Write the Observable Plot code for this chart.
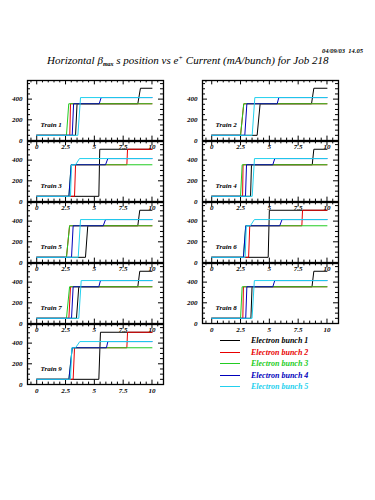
<!DOCTYPE html>
<html><head><meta charset="utf-8">
<script src="https://cdn.jsdelivr.net/npm/d3@7"></script>
<script src="https://cdn.jsdelivr.net/npm/@observablehq/plot@0.6"></script>
<style>
body{margin:0;background:#fff;}
#wrap{position:relative;width:375px;height:500px;overflow:hidden;background:#fff;}
#wrap svg{position:absolute;left:0;top:0;}
.t{position:absolute;font-family:"Liberation Serif",serif;font-style:italic;white-space:nowrap;line-height:1;}
#title{left:47px;top:55px;font-size:11px;}
#title sub{font-size:6px;vertical-align:-2px;font-weight:bold;}
#title sup{font-size:7px;vertical-align:4px;}
#date{left:322px;top:48px;font-size:6.5px;font-weight:bold;}
.lg{position:absolute;left:220px;height:11px;}
.lg .ln{position:absolute;left:0;top:5px;width:20px;height:0;border-top:1px solid;}
.lg .tx{position:absolute;left:31px;top:0;font-family:"Liberation Serif",serif;font-style:italic;font-weight:bold;font-size:8px;line-height:11px;white-space:nowrap;}
</style></head><body><div id="wrap">
<div class="t" id="date">04/09/03&nbsp;&nbsp;14.05</div>
<div class="t" id="title">Horizontal β<sub>max</sub> s position vs e<sup>+</sup> Current (mA/bunch) for Job 218</div>
</div>
<script>
const trainNames = ["Train 1","Train 2","Train 3","Train 4","Train 5","Train 6","Train 7","Train 8","Train 9"];
const bunchNames = ["Electron bunch 1","Electron bunch 2","Electron bunch 3","Electron bunch 4","Electron bunch 5"];
const bunchColors = ["#000000","#e80000","#22cc22","#0000bb","#22d0ee"];
const xTickLabels = [0, 2.5, 5, 7.5, 10];
const yTickLabels = [0, 200, 400];

// each train: 5 polylines (bunch 1..5) of [current, position] vertices
const train1 = [
  [[0,50],[3.37,50],[3.5,355],[8.77,355],[9.0,505],[10,505]],
  [[0,50],[2.87,50],[2.93,355],[10,355]],
  [[0,50],[2.58,50],[2.78,355],[10,355]],
  [[0,50],[3.08,50],[3.2,355],[5.42,355],[5.59,415],[10,415]],
  [[0,50],[3.57,50],[3.8,415],[10,415]]
];
const train2 = [
  [[0,50],[3.94,50],[4.2,355],[8.66,355],[8.86,505],[10,505]],
  [[0,50],[2.5,50],[2.78,355],[10,355]],
  [[0,50],[2.5,50],[2.78,355],[10,355]],
  [[0,50],[2.87,50],[3.05,355],[5.68,355],[5.82,415],[10,415]],
  [[0,50],[3.51,50],[3.74,415],[10,415]]
];
const train3 = [
  [[0,50],[5.39,50],[5.47,505],[10,505]],
  [[0,50],[3.28,50],[3.37,355],[7.82,355],[7.88,505],[10,505]],
  [[0,50],[2.79,50],[2.99,355],[10,355]],
  [[0,50],[2.79,50],[2.99,355],[5.97,355],[6.17,415],[10,415]],
  [[0,50],[2.93,50],[3.02,355],[3.37,355],[3.71,415],[10,415]]
];
const train4 = [
  [[0,50],[3.37,50],[3.45,355],[8.72,355],[8.86,505],[10,505]],
  [[0,50],[2.68,50],[2.72,355],[10,355]],
  [[0,50],[2.5,50],[2.64,355],[10,355]],
  [[0,50],[2.93,50],[3.02,355],[5.3,355],[5.47,415],[10,415]],
  [[0,50],[3.51,50],[3.71,415],[10,415]]
];
const train5 = [
  [[0,50],[4.23,50],[4.43,355],[8.77,355],[8.94,505],[10,505]],
  [[0,50],[2.58,50],[2.85,355],[10,355]],
  [[0,50],[2.58,50],[2.85,355],[10,355]],
  [[0,50],[3.02,50],[3.16,355],[5.77,355],[5.97,415],[10,415]],
  [[0,50],[3.6,50],[3.8,415],[10,415]]
];
const train6 = [
  [[0,50],[4.9,50],[5.0,505],[10,505]],
  [[0,50],[3.2,50],[3.3,355],[7.82,355],[7.88,505],[10,505]],
  [[0,50],[2.75,50],[2.95,355],[10,355]],
  [[0,50],[2.75,50],[2.95,355],[5.9,355],[6.1,415],[10,415]],
  [[0,50],[2.9,50],[3.0,355],[3.35,355],[3.7,415],[10,415]]
];
const train7 = [
  [[0,50],[3.45,50],[3.65,355],[8.77,355],[8.94,505],[10,505]],
  [[0,50],[2.79,50],[2.93,355],[10,355]],
  [[0,50],[2.58,50],[2.85,355],[10,355]],
  [[0,50],[3.02,50],[3.16,355],[5.39,355],[5.53,415],[10,415]],
  [[0,50],[3.65,50],[3.86,415],[10,415]]
];
const train8 = [
  [[0,50],[3.4,50],[3.5,355],[8.7,355],[8.86,505],[10,505]],
  [[0,50],[2.7,50],[2.75,355],[10,355]],
  [[0,50],[2.5,50],[2.64,355],[10,355]],
  [[0,50],[2.95,50],[3.05,355],[5.3,355],[5.47,415],[10,415]],
  [[0,50],[3.5,50],[3.7,415],[10,415]]
];
const train9 = [
  [[0,50],[5.39,50],[5.53,505],[10,505]],
  [[0,50],[3.16,50],[3.28,355],[7.82,355],[7.88,505],[10,505]],
  [[0,50],[2.79,50],[3.08,355],[10,355]],
  [[0,50],[2.79,50],[3.08,355],[6.05,355],[6.17,415],[10,415]],
  [[0,50],[2.93,50],[3.05,355],[3.37,355],[3.74,415],[10,415]]
];
const trains = [train1,train2,train3,train4,train5,train6,train7,train8,train9];

// tidy rows
const rows = [];
trains.forEach((tr, t) => tr.forEach((pts, b) => pts.forEach(([x, y], i) =>
  rows.push({train: t, col: t % 2, row: Math.floor(t / 2), bunch: b, i, x, y}))));
const labelRows = trainNames.map((name, t) => ({name, col: t % 2, row: Math.floor(t / 2)}));

const W = 375, H = 500, mt = 79, mb = 114, ml = 27, mr = 37;
const padX = 0.223, padY = 0.016;
const pw = (W - ml - mr) * (1 - padX) / (2 - padX);
const stepY = (H - mt - mb) / (5 - padY);
const ph = stepY * (1 - padY);

const xMinor = d3.range(-0.5, 10.51, 0.5).filter(v => !xTickLabels.includes(v));
const yMinor = d3.range(50, 551, 50).filter(v => !yTickLabels.includes(v));
const fnt = {fontFamily: "Liberation Serif, serif", fontStyle: "italic", fontWeight: "bold", fontSize: 7};

const marks = [
  Plot.frame({stroke: "#000", strokeWidth: 1.3}),
  // bottom / top ticks
  Plot.tickX(xMinor, {x: d => d, insetTop: ph - 3}),
  Plot.tickX(xMinor, {x: d => d, insetBottom: ph - 3}),
  Plot.tickX(xTickLabels, {x: d => d, insetTop: ph - 5}),
  Plot.tickX(xTickLabels, {x: d => d, insetBottom: ph - 5}),
  // left / right ticks
  Plot.tickY(yMinor, {y: d => d, insetRight: pw - 3}),
  Plot.tickY(yMinor, {y: d => d, insetLeft: pw - 3}),
  Plot.tickY(yTickLabels, {y: d => d, insetRight: pw - 5}),
  Plot.tickY(yTickLabels, {y: d => d, insetLeft: pw - 5}),
  ...bunchColors.map((c, b) => Plot.line(rows.filter(d => d.bunch === b), {
    x: "x", y: "y", fx: "col", fy: "row", stroke: c, strokeWidth: 1, curve: "linear"
  })),
  Plot.text(labelRows, {fx: "col", fy: "row", text: "name", frameAnchor: "bottom-left", dx: 13, dy: -14, textAnchor: "start", ...fnt}),
  Plot.text(xTickLabels, {x: d => d, text: d => String(d), frameAnchor: "bottom", dy: 8, ...fnt}),
  Plot.text(yTickLabels, {y: d => d, text: d => String(d), frameAnchor: "left", dx: -5, textAnchor: "end", ...fnt})
];

const chart = Plot.plot({
  width: W, height: H,
  marginTop: mt, marginBottom: mb, marginLeft: ml, marginRight: mr,
  style: {background: "transparent", overflow: "visible"},
  x: {domain: [-0.8, 11], axis: null},
  y: {domain: [0, 580], axis: null},
  fx: {domain: [0, 1], axis: null, paddingInner: padX, paddingOuter: 0},
  fy: {domain: [0, 1, 2, 3, 4], axis: null, paddingInner: padY, paddingOuter: 0},
  marks
});
const wrap = document.getElementById("wrap");
wrap.insertBefore(chart, wrap.firstChild);

// legend (in the empty lower-right cell)
bunchNames.forEach((name, b) => {
  const el = document.createElement("div");
  el.className = "lg";
  el.style.top = (335 + b * 11.5) + "px";
  el.innerHTML = `<div class="ln" style="border-color:${bunchColors[b]}"></div><div class="tx" style="color:${bunchColors[b]}">${name}</div>`;
  wrap.appendChild(el);
});
</script>
</body></html>
